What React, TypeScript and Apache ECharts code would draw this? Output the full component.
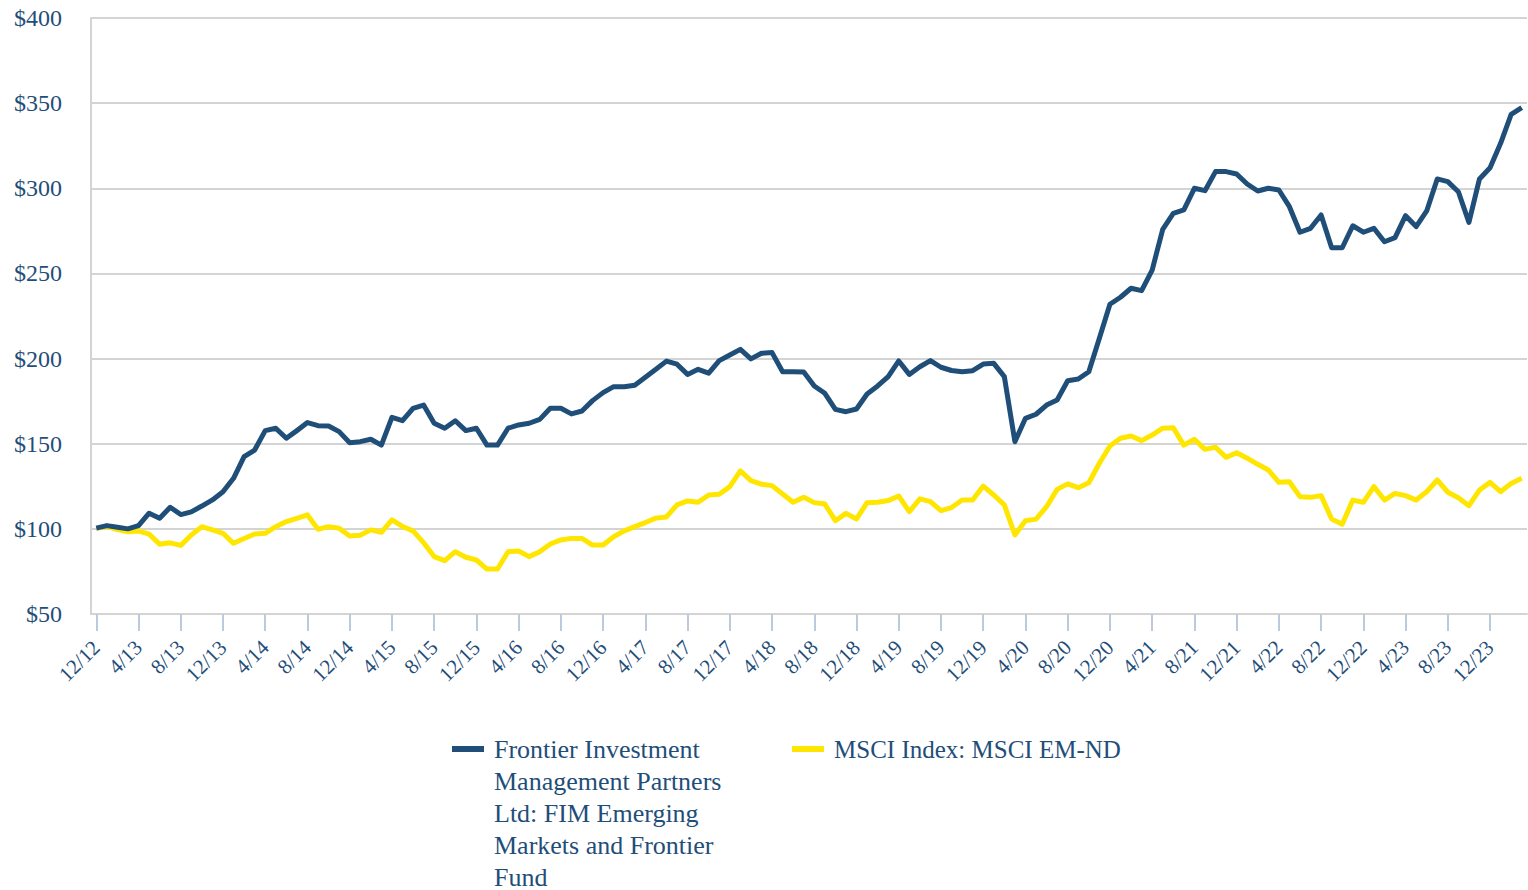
import React, { useEffect, useRef } from "react";
import * as echarts from "echarts";

const FONT = "'Liberation Serif', 'Times New Roman', serif";
const NAVY = "#1f4e79";
const YELLOW = "#ffe600";

const fundName = "Frontier Investment Management Partners Ltd: FIM Emerging Markets and Frontier Fund";
const indexName = "MSCI Index: MSCI EM-ND";

// monthly categories 12/12 .. 3/24
const categories: string[] = [];
for (let k = 0; k < 136; k++) {
  const m = ((11 + k) % 12) + 1;
  const y = 12 + Math.floor((11 + k) / 12);
  categories.push(`${m}/${y}`);
}

const fundValues = [
  100.4, 101.9, 101, 100, 101.9, 109.2, 106.2, 112.7, 108.4, 110, 113.4, 117,
  121.8, 129.7, 142.4, 146.3, 157.7, 159.1, 153.2, 157.7, 162.4, 160.6, 160.4, 157.1,
  150.6, 151.2, 152.6, 149.2, 165.5, 163.5, 170.8, 172.7, 162, 159.1, 163.5, 157.7,
  159.1, 149.2, 149.2, 159.1, 161, 162, 164.3, 170.8, 170.8, 167.5, 169.2, 175.3,
  180, 183.5, 183.5, 184.3, 189, 193.7, 198.5, 196.7, 190.7, 193.7, 191.4, 198.8,
  202.1, 205.4, 199.8, 203.1, 203.5, 192.3, 192.3, 192.1, 183.9, 179.6, 170.2, 168.8,
  170.4, 179.2, 183.9, 189.4, 198.6, 190.7, 195.2, 198.8, 194.9, 193, 192.3, 192.9,
  196.8, 197.2, 189.4, 151.2, 164.9, 167.3, 172.7, 175.7, 187, 188, 192.3, 211.9,
  231.9, 236, 241.3, 239.9, 252, 275.9, 285.3, 287.3, 300, 298.6, 309.8, 309.8,
  308.4, 302.5, 298.4, 300, 299, 289.2, 274.2, 276.5, 284.3, 265.1, 265.1, 278,
  274.2, 276.5, 268.6, 271, 283.9, 277.5, 286.7, 305.5, 303.9, 298, 280, 305.5,
  312.1, 326.4, 343.4, 347.3,
];

const indexValues = [
  100.4, 101.4, 99.6, 98.3, 98.8, 96.9, 91, 91.8, 90.3, 96.4, 101.3, 99.4,
  97.4, 91.5, 94.3, 97, 97.4, 101.3, 104.3, 106.2, 108.2, 99.8, 101.3, 100.4,
  95.8, 96.3, 99.4, 98, 105.3, 101.4, 98.8, 91.9, 83.7, 81.3, 86.6, 83.3,
  81.7, 76.4, 76.4, 86.6, 87, 83.7, 86.6, 91.1, 93.5, 94.4, 94.4, 90.5,
  90.5, 95.4, 98.8, 101.3, 103.7, 106.3, 107, 114.1, 116.4, 115.6, 119.9, 120.3,
  124.8, 134, 128.3, 126.2, 125.4, 120.5, 115.6, 118.5, 115.4, 114.6, 104.8, 109.1,
  105.8, 115.4, 115.6, 116.6, 119.3, 110.1, 117.6, 116, 110.7, 112.5, 116.9, 116.9,
  125.1, 119.9, 114.1, 96.4, 104.8, 105.7, 113, 123.2, 126.4, 124.2, 127.1, 138.5,
  148.7, 153.2, 154.5, 151.8, 155.1, 159.1, 159.4, 149.2, 152.6, 146.7, 147.9, 142,
  144.7, 141.5, 137.9, 134.6, 127.3, 127.7, 118.9, 118.5, 119.5, 105.8, 102.7, 116.9,
  115.6, 124.8, 116.9, 120.8, 119.5, 116.9, 121.8, 128.7, 121.5, 118.3, 113.6, 122.8,
  127.3, 121.8, 126.7, 129.7,
];

const fundLegendLines = [
  "Frontier Investment",
  "Management Partners",
  "Ltd: FIM Emerging",
  "Markets and Frontier",
  "Fund",
];

export default function App() {
  const ref = useRef<HTMLDivElement>(null);
  useEffect(() => {
    if (!ref.current) return;
    const chart = echarts.init(ref.current, undefined, { renderer: "svg" });
    chart.setOption({
      animation: false,
      backgroundColor: "#ffffff",
      textStyle: { fontFamily: FONT },
      grid: { left: 91, right: 1, top: 18, bottom: 276, containLabel: false },
      xAxis: {
        type: "category",
        data: categories,
        boundaryGap: true,
        axisLine: { show: true, lineStyle: { color: "#d4d4d4", width: 2 } },
        axisTick: {
          show: true,
          alignWithLabel: true,
          interval: 3,
          length: 17,
          lineStyle: { color: "#bccadb", width: 2 },
        },
        axisLabel: {
          interval: 3,
          rotate: 45,
          margin: 30,
          color: NAVY,
          fontSize: 21,
          fontFamily: FONT,
        },
        splitLine: { show: false },
      },
      yAxis: {
        type: "value",
        min: 50,
        max: 400,
        interval: 50,
        axisLine: { show: true, lineStyle: { color: "#d4d4d4", width: 2 } },
        axisTick: { show: false },
        axisLabel: {
          margin: 29,
          color: NAVY,
          fontSize: 24,
          fontFamily: FONT,
          formatter: (v: number) => "$" + v,
        },
        splitLine: { show: true, lineStyle: { color: "#d4d4d4", width: 2 } },
      },
      series: [
        {
          name: fundName,
          type: "line",
          data: fundValues,
          showSymbol: false,
          symbol: "none",
          lineStyle: { color: NAVY, width: 5, join: "round" },
          itemStyle: { color: NAVY },
          z: 3,
        },
        {
          name: indexName,
          type: "line",
          data: indexValues,
          showSymbol: false,
          symbol: "none",
          lineStyle: { color: YELLOW, width: 5, join: "round" },
          itemStyle: { color: YELLOW },
          z: 2,
        },
      ],
      graphic: [
        { type: "rect", left: 452, top: 746, shape: { width: 32, height: 6 }, style: { fill: NAVY } },
        {
          type: "text",
          left: 494,
          top: 733,
          style: {
            text: fundLegendLines.join("\n"),
            font: `26px ${FONT}`,
            fill: NAVY,
            lineHeight: 32,
          },
        },
        { type: "rect", left: 792, top: 746, shape: { width: 32, height: 6 }, style: { fill: YELLOW } },
        {
          type: "text",
          left: 834,
          top: 733,
          style: {
            text: indexName,
            font: `25px ${FONT}`,
            fill: NAVY,
            lineHeight: 32,
          },
        },
      ],
    });
    return () => chart.dispose();
  }, []);
  return (
    <div
      ref={ref}
      style={{ position: "fixed", left: 0, top: 0, width: 1528, height: 890, background: "#fff" }}
    />
  );
}
